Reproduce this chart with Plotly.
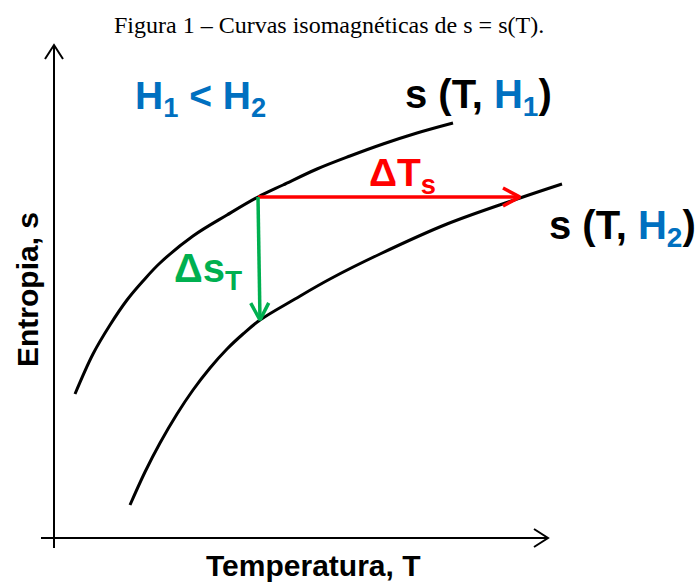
import plotly.graph_objects as go

# Isomagnetic entropy curves s(T, H) (schematic units)
T_H1 = [0.42, 0.78, 1.12, 1.46, 1.78, 2.12, 2.78, 3.46, 4.08, 4.58, 5.26, 5.92, 6.58, 7.26, 7.98]
s_H1 = [2.88, 3.68, 4.26, 4.76, 5.14, 5.50, 6.04, 6.46, 6.82, 7.06, 7.38, 7.64, 7.88, 8.10, 8.30]

T_H2 = [1.52, 1.82, 2.12, 2.46, 2.78, 3.12, 3.46, 3.78, 4.12, 4.82, 5.52, 6.52, 7.86, 9.32, 10.16]
s_H2 = [0.66, 1.32, 1.90, 2.48, 2.96, 3.40, 3.78, 4.08, 4.36, 4.78, 5.18, 5.68, 6.28, 6.80, 7.08]

# Isothermal entropy change (green) and adiabatic temperature change (red)
dT_T = [4.08, 9.32]
dT_s = [6.82, 6.82]
ds_T = [4.08, 4.12]
ds_s = [6.82, 4.36]

# Coordinate axes
xaxis_T = [-0.26, 9.88]
xaxis_s = [0.0, 0.0]
yaxis_T = [0.0, 0.0]
yaxis_s = [-0.2, 9.86]

PX = 50.0  # pixels per unit on both axes
X0, Y0 = 54, 538  # pixel position of the origin
W, H = 699, 583

BLUE = "#0070C0"
GREEN = "#00B050"
RED = "#FF0000"


def chevron(xs, ys, back, half):
    """Open arrowhead at the last point of a polyline (back/half in pixels)."""
    x1, y1 = xs[-1], ys[-1]
    x0, y0 = xs[-2], ys[-2]
    dx, dy = x1 - x0, y1 - y0
    n = (dx * dx + dy * dy) ** 0.5
    ux, uy = dx / n, dy / n
    px_, py_ = -uy, ux
    b, h = back / PX, half / PX
    return ([x1 - ux * b + px_ * h, x1, x1 - ux * b - px_ * h],
            [y1 - uy * b + py_ * h, y1, y1 - uy * b - py_ * h])


fig = go.Figure()


def line(x, y, color, width, shape="linear"):
    fig.add_trace(go.Scatter(x=x, y=y, mode="lines",
                             line=dict(color=color, width=width, shape=shape, smoothing=1.0),
                             hoverinfo="skip", showlegend=False))


# axes with open arrowheads
line(xaxis_T, xaxis_s, "black", 2)
line(*chevron(xaxis_T, xaxis_s, 14, 9), "black", 2)
line(yaxis_T, yaxis_s, "black", 2)
line(*chevron(yaxis_T, yaxis_s, 14, 9), "black", 2)

# curves
line(T_H1, s_H1, "black", 3, "spline")
line(T_H2, s_H2, "black", 3, "spline")

# arrows
line(dT_T, dT_s, RED, 3.5)
line(*chevron(dT_T, dT_s, 17, 9), RED, 3.5)
line(ds_T, ds_s, GREEN, 3.5)
line(*chevron(ds_T, ds_s, 17, 9), GREEN, 3.5)

SANS = "Liberation Sans, Arial, sans-serif"


def label(px, py, text, size, color="black", angle=0, family=SANS):
    fig.add_annotation(x=px / W, y=1 - py / H, xref="paper", yref="paper", text=text,
                       showarrow=False, textangle=angle, xanchor="center", yanchor="middle",
                       font=dict(family=family, size=size, color=color))


label(329, 25, "Figura 1 – Curvas isomagnéticas de s = s(T).", 24,
      family="Liberation Serif, Times New Roman, serif")
label(200, 99, f"<b><span style='color:{BLUE}'>H<sub>1</sub> &lt; H<sub>2</sub></span></b>", 39)
label(478, 97, f"<b>s (T, <span style='color:{BLUE}'>H<sub>1</sub></span>)</b>", 40)
label(622, 228, f"<b>s (T, <span style='color:{BLUE}'>H<sub>2</sub></span>)</b>", 40)
label(402, 176, "<b>ΔT<sub>s</sub></b>", 39, RED)
label(208, 271, "<b>Δs<sub>T</sub></b>", 40, GREEN)
label(313, 565, "<b>Temperatura, T</b>", 30)
label(27, 290, "<b>Entropia, s</b>", 30, angle=-90)

fig.update_layout(
    width=W, height=H, margin=dict(l=0, r=0, t=0, b=0),
    paper_bgcolor="white", plot_bgcolor="white",
    xaxis=dict(range=[-X0 / PX, (W - X0) / PX], visible=False, fixedrange=True),
    yaxis=dict(range=[(Y0 - H) / PX, Y0 / PX], visible=False, fixedrange=True),
)

fig.write_html("out.html")
